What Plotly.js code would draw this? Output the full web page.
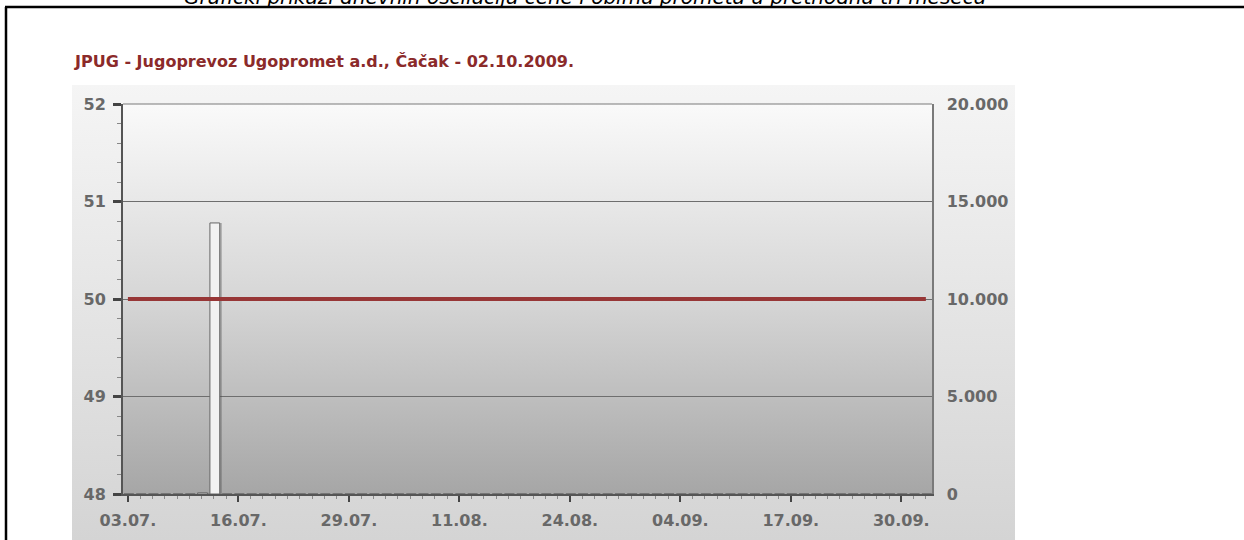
<!DOCTYPE html>
<html>
<head>
<meta charset="utf-8">
<script src="https://cdn.plot.ly/plotly-3.0.1.min.js"></script>
<style>html,body{margin:0;padding:0;background:#fff;overflow:hidden;}#chart{width:1244px;height:540px;}</style>
</head>
<body>
<div id="chart"></div>
<script>
// Trading days 03.07.2009 - 02.10.2009
const dates = [
  "03.07.","06.07.","07.07.","08.07.","09.07.","10.07.","13.07.","14.07.","15.07.","16.07.",
  "17.07.","20.07.","21.07.","22.07.","23.07.","24.07.","27.07.","28.07.","29.07.","30.07.",
  "31.07.","03.08.","04.08.","05.08.","06.08.","07.08.","10.08.","11.08.","12.08.","13.08.",
  "14.08.","17.08.","18.08.","19.08.","20.08.","21.08.","24.08.","25.08.","26.08.","27.08.",
  "28.08.","31.08.","01.09.","02.09.","03.09.","04.09.","07.09.","08.09.","09.09.","10.09.",
  "11.09.","14.09.","15.09.","16.09.","17.09.","18.09.","21.09.","22.09.","23.09.","24.09.",
  "25.09.","28.09.","29.09.","30.09.","01.10.","02.10."
];
const prices = [
  50,50,50,50,50,50,50,50,50,50,
  50,50,50,50,50,50,50,50,50,50,
  50,50,50,50,50,50,50,50,50,50,
  50,50,50,50,50,50,50,50,50,50,
  50,50,50,50,50,50,50,50,50,50,
  50,50,50,50,50,50,50,50,50,50,
  50,50,50,50,50,50
];
const volumes = [
  0,0,0,0,0,0,60,13900,0,0,
  0,0,0,0,0,0,0,0,0,0,
  0,0,0,0,0,0,0,0,0,0,
  0,0,0,0,0,0,0,0,0,0,
  0,0,0,0,0,0,0,0,0,0,
  0,0,0,0,0,0,0,0,0,0,
  0,0,0,0,0,0
];
const tickLabels = ["03.07.","16.07.","29.07.","11.08.","24.08.","04.09.","17.09.","30.09."];
const chartTitle = "JPUG - Jugoprevoz Ugopromet a.d., Čačak - 02.10.2009.";
const pageHeading = "Grafički prikazi dnevnih oscilacija cene i obima prometa u prethodna tri meseca";

const idx = dates.map((d, i) => i);
const tickVals = tickLabels.map(t => dates.indexOf(t));

// Geometry (pixels)
const W = 1244, H = 540;
const L = 123, R = 932, T = 104, B = 494;
const pw = R - L, ph = B - T;
const px = x => (x - L) / pw;
const py = y => (B - y) / ph;

function grad(stops) {
  const s = stops.map(st => '<stop offset="' + st[0] + '" stop-color="' + st[1] + '"/>').join('');
  const svg = '<svg xmlns="http://www.w3.org/2000/svg" width="100" height="100" viewBox="0 0 100 100" preserveAspectRatio="none">' +
    '<defs><linearGradient id="g" x1="0" y1="0" x2="0" y2="1">' + s + '</linearGradient></defs>' +
    '<rect x="0" y="0" width="100" height="100" fill="url(#g)"/></svg>';
  return 'data:image/svg+xml;charset=utf-8,' + encodeURIComponent(svg);
}

const axisFont = {family: "DejaVu Sans, Verdana, sans-serif", size: 16, color: "#686868", weight: "bold"};

const traces = [
  {
    type: "bar", x: idx, y: volumes, yaxis: "y", xaxis: "x",
    width: 0.8, offset: -0.15,
    marker: {color: "rgba(70,70,70,0.35)", line: {width: 0}},
    hoverinfo: "skip", showlegend: false
  },
  {
    type: "bar", x: idx, y: volumes, yaxis: "y", xaxis: "x",
    width: 0.8, offset: -0.32,
    marker: {color: "#f2f2f2", line: {color: "#666666", width: 1}},
    hoverinfo: "skip", showlegend: false
  },
  {
    type: "scatter", mode: "lines", x: idx, y: prices, yaxis: "y2", xaxis: "x",
    line: {color: "#973636", width: 4},
    hoverinfo: "skip", showlegend: false
  }
];

const layout = {
  width: W, height: H,
  margin: {l: L, r: W - R, t: T, b: H - B, pad: 0},
  paper_bgcolor: "#ffffff",
  plot_bgcolor: "rgba(0,0,0,0)",
  separators: ",.",
  barmode: "overlay",
  showlegend: false,
  xaxis: {
    type: "linear",
    range: [-0.4, 65.5],
    tickmode: "array", tickvals: tickVals, ticktext: tickLabels,
    ticks: "outside", ticklen: 6, tickwidth: 2, tickcolor: "#444",
    ticklabelstandoff: 5,
    showline: true, linecolor: "#555", linewidth: 2,
    showgrid: false, zeroline: false,
    tickfont: axisFont,
    minor: {tickmode: "linear", tick0: 0, dtick: 1, ticks: "outside", ticklen: 3, tickwidth: 1, tickcolor: "#8a8a8a", showgrid: false}
  },
  yaxis: {
    side: "right",
    range: [0, 20000],
    tickmode: "linear", tick0: 0, dtick: 5000,
    tickformat: ",d",
    ticks: "", showline: true, linecolor: "#7a7a7a", linewidth: 1.5,
    showgrid: true, gridcolor: "#6e6e6e", gridwidth: 1,
    zeroline: false,
    ticklabelstandoff: 10,
    tickfont: axisFont
  },
  yaxis2: {
    overlaying: "y", side: "left",
    range: [48, 52],
    tickmode: "linear", tick0: 48, dtick: 1,
    ticks: "outside", ticklen: 8, tickwidth: 3, tickcolor: "#444",
    ticklabelstandoff: 4,
    showline: true, linecolor: "#555", linewidth: 2,
    showgrid: false, zeroline: false,
    tickfont: axisFont,
    minor: {tickmode: "linear", tick0: 48, dtick: 0.2, ticks: "outside", ticklen: 4, tickwidth: 1, tickcolor: "#888", showgrid: false}
  },
  images: [
    {source: grad([[0, "#f5f5f5"], [1, "#d4d4d4"]]), xref: "paper", yref: "paper",
     x: px(72), y: py(85), sizex: px(1015) - px(72), sizey: py(85) - py(540),
     xanchor: "left", yanchor: "top", sizing: "stretch", layer: "below"},
    {source: grad([[0, "#fafafa"], [0.5, "#d6d6d6"], [1, "#a6a6a6"]]), xref: "paper", yref: "paper",
     x: 0, y: 1, sizex: 1, sizey: 1,
     xanchor: "left", yanchor: "top", sizing: "stretch", layer: "below"}
  ],
  shapes: [
    {type: "line", xref: "paper", yref: "paper", x0: 0, x1: 1, y0: 1, y1: 1, line: {color: "#7a7a7a", width: 1}},
    {type: "line", xref: "paper", yref: "paper", x0: px(6), x1: px(6), y0: py(7), y1: py(545), line: {color: "#000", width: 2.5}},
    {type: "line", xref: "paper", yref: "paper", x0: px(5), x1: px(1250), y0: py(7), y1: py(7), line: {color: "#000", width: 2.5}}
  ],
  annotations: [
    {text: chartTitle, xref: "paper", yref: "paper", x: px(72), y: py(62),
     xanchor: "left", yanchor: "middle", showarrow: false,
     font: {family: "DejaVu Sans, Verdana, sans-serif", size: 16, color: "#8b2a2a", weight: "bold"}},
    {text: pageHeading, xref: "paper", yref: "paper", x: px(585), y: py(-3),
     xanchor: "center", yanchor: "middle", showarrow: false,
     font: {family: "DejaVu Sans, Verdana, sans-serif", size: 20, color: "#000", style: "italic"}}
  ]
};

Plotly.newPlot("chart", traces, layout, {staticPlot: true, displayModeBar: false});
</script>
</body>
</html>
